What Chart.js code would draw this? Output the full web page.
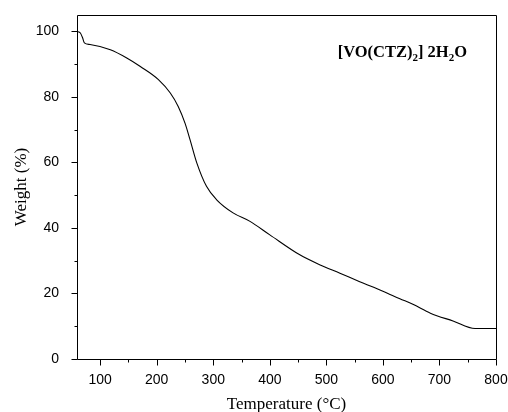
<!DOCTYPE html>
<html>
<head>
<meta charset="utf-8">
<script src="https://cdn.jsdelivr.net/npm/chart.js@4.4.1/dist/chart.umd.min.js"></script>
<style>
html,body{margin:0;padding:0;background:#fff;}
#wrap{width:508px;height:412px;}
</style>
</head>
<body>
<div id="wrap"><canvas id="c" width="508" height="412"></canvas></div>
<script>
const temperature = [59, 65, 69, 72, 82, 118, 147, 171, 203, 224, 238, 250, 259, 271, 288, 306, 335, 365, 400, 453, 488, 524, 559, 600, 630, 653, 684, 724, 763, 800];
const weight = [100, 99.5, 98, 96.5, 96, 94.4, 91.9, 89.3, 85.3, 81.2, 77.1, 72.0, 66.9, 59.8, 52.7, 48.6, 44.6, 42.0, 37.9, 31.8, 28.8, 26.2, 23.6, 20.7, 18.4, 16.7, 14.0, 11.6, 9.3, 9.3];
const xMajorTicks = [100, 200, 300, 400, 500, 600, 700, 800];
const xMinorTicks = [150, 250, 350, 450, 550, 650, 750];
const yMajorTicks = [0, 20, 40, 60, 80, 100];
const yMinorTicks = [10, 30, 50, 70, 90];
const xTitle = 'Temperature (°C)';
const yTitle = 'Weight (%)';
const labelParts = [['[VO(CTZ)', false], ['2', true], ['] 2H', false], ['2', true], ['O', false]];
const labelAnchor = {x: 520, y: 92.3};

const points = temperature.map((t, i) => ({x: t, y: weight[i]}));

const framePlugin = {
  id: 'frame',
  afterDraw(chart) {
    const ctx = chart.ctx, a = chart.chartArea;
    const xs = chart.scales.x, ys = chart.scales.y;
    ctx.save();
    ctx.strokeStyle = '#000';
    ctx.lineWidth = 1;
    ctx.beginPath();
    ctx.rect(Math.round(a.left) + 0.5, Math.round(a.top) + 0.5, Math.round(a.right - a.left), Math.round(a.bottom - a.top));
    ctx.stroke();
    ctx.beginPath();
    const yb = Math.round(a.bottom) + 0.5;
    xMajorTicks.forEach(v => { const p = Math.round(xs.getPixelForValue(v)) + 0.5; ctx.moveTo(p, yb); ctx.lineTo(p, yb + 6); });
    xMinorTicks.forEach(v => { const p = Math.round(xs.getPixelForValue(v)) + 0.5; ctx.moveTo(p, yb); ctx.lineTo(p, yb + 3); });
    const xl = Math.round(a.left) + 0.5;
    yMajorTicks.forEach(v => { const p = Math.round(ys.getPixelForValue(v)) + 0.5; ctx.moveTo(xl, p); ctx.lineTo(xl - 6, p); });
    yMinorTicks.forEach(v => { const p = Math.round(ys.getPixelForValue(v)) + 0.5; ctx.moveTo(xl, p); ctx.lineTo(xl - 3, p); });
    ctx.stroke();
    let px = xs.getPixelForValue(labelAnchor.x);
    const py = ys.getPixelForValue(labelAnchor.y);
    ctx.fillStyle = '#000';
    ctx.textBaseline = 'alphabetic';
    ctx.textAlign = 'left';
    labelParts.forEach(([txt, sub]) => {
      ctx.font = sub ? 'bold 11px "Liberation Serif"' : 'bold 16.5px "Liberation Serif"';
      ctx.fillText(txt, px, sub ? py + 4 : py);
      px += ctx.measureText(txt).width;
    });
    ctx.restore();
  }
};

new Chart(document.getElementById('c'), {
  type: 'line',
  data: {
    datasets: [{
      data: points,
      borderColor: '#000',
      borderWidth: 1.1,
      pointRadius: 0,
      fill: false,
      cubicInterpolationMode: 'monotone'
    }]
  },
  options: {
    responsive: false,
    animation: false,
    events: [],
    layout: {padding: {left: 0, right: 12, top: 15, bottom: 0}},
    plugins: {legend: {display: false}, tooltip: {enabled: false}},
    scales: {
      x: {
        type: 'linear',
        min: 59, max: 800,
        afterBuildTicks: s => { s.ticks = xMajorTicks.map(v => ({value: v})); },
        afterFit: s => { s.height = 53; s.paddingLeft = 0; s.paddingRight = 0; },
        grid: {display: false},
        border: {display: false},
        ticks: {color: '#000', padding: 5, maxRotation: 0, autoSkip: false,
          font: {family: '"Liberation Sans", Arial, sans-serif', size: 14}},
        title: {display: true, text: xTitle, color: '#000', padding: {top: 0, bottom: 0},
          font: {family: '"Liberation Serif", "Times New Roman", serif', size: 17, lineHeight: 0.9}}
      },
      y: {
        type: 'linear',
        min: 0, max: 105,
        afterBuildTicks: s => { s.ticks = yMajorTicks.map(v => ({value: v})); },
        afterFit: s => { s.width = 77; s.paddingTop = 0; s.paddingBottom = 0; },
        grid: {display: false},
        border: {display: false},
        ticks: {color: '#000', padding: 10, autoSkip: false,
          font: {family: '"Liberation Sans", Arial, sans-serif', size: 14}},
        title: {display: true, text: yTitle, color: '#000', padding: {top: 11, bottom: 0},
          font: {family: '"Liberation Serif", "Times New Roman", serif', size: 17}}
      }
    }
  },
  plugins: [framePlugin]
});
</script>
</body>
</html>
